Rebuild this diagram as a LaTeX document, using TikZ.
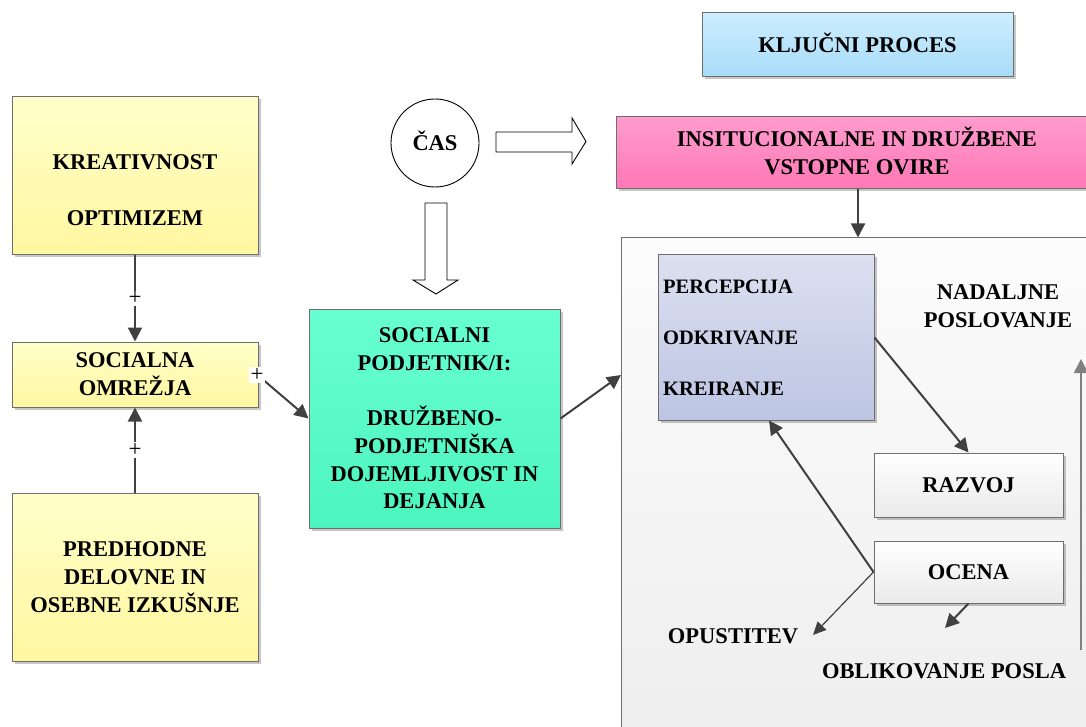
\documentclass[tikz,border=0pt]{standalone}
\usepackage{fontspec}
\setmainfont{Liberation Serif}
\usetikzlibrary{arrows.meta,shadows,calc}

\definecolor{boxline}{HTML}{6E6E6E}
\definecolor{linkgray}{HTML}{404040}
\definecolor{yelTop}{HTML}{FFFFCA}
\definecolor{yelBot}{HTML}{FFF7A0}
\definecolor{grnTop}{HTML}{68FFD0}
\definecolor{grnBot}{HTML}{4CF5BE}
\definecolor{bluTop}{HTML}{CDEEFF}
\definecolor{bluBot}{HTML}{A7DBF8}
\definecolor{pnkTop}{HTML}{FF9CCE}
\definecolor{pnkBot}{HTML}{FF77B5}
\definecolor{lavTop}{HTML}{DCE0F0}
\definecolor{lavBot}{HTML}{BCC5E3}
\definecolor{panTop}{HTML}{FCFCFC}
\definecolor{panBot}{HTML}{EEEEEE}
\definecolor{whtBot}{HTML}{EAEAEA}

\begin{document}
\begin{tikzpicture}[x=1pt,y=-1pt,
  every node/.style={font=\bfseries\fontsize{22.5}{27.7}\selectfont, inner sep=0pt},
  box/.style={draw=boxline, line width=1pt, rectangle, align=center,
    drop shadow={shadow xshift=2.5pt, shadow yshift=-2.5pt, opacity=0.22, fill=black}},
  yel/.style={box, top color=yelTop, bottom color=yelBot},
  grn/.style={box, top color=grnTop, bottom color=grnBot},
  blu/.style={box, top color=bluTop, bottom color=bluBot},
  pnk/.style={box, top color=pnkTop, bottom color=pnkBot},
  lav/.style={box, top color=lavTop, bottom color=lavBot},
  wht/.style={box, top color=white, bottom color=whtBot},
  oneline/.style={text height=15pt, text depth=0pt},
  link/.style={draw=linkgray, line width=2pt, -{Triangle[length=14pt,width=14pt]}},
  thinlink/.style={draw=linkgray, line width=1.2pt, -{Triangle[length=13pt,width=12pt]}},
  plus/.style={fill=white, font=\fontsize{23}{23}\selectfont, inner sep=1.5pt},
  blockarrow/.style={draw=black, line width=0.9pt, fill=white, line join=miter}
]
\path[use as bounding box, clip] (0,0) rectangle (1086,727);

% left column
\node[yel, minimum width=246pt, minimum height=158pt] (kreat) at (135,176) {};
\node[align=center] (kreattxt) at (135,190) {KREATIVNOST\\[28pt]OPTIMIZEM};
\node[yel, minimum width=246pt, minimum height=65pt] (omrez) at (135,374.5) {SOCIALNA\\OMREŽJA};
\node[yel, minimum width=246pt, minimum height=168pt] (predh) at (135,577) {PREDHODNE\\DELOVNE IN\\OSEBNE IZKUŠNJE};

% central actor
\node[grn, minimum width=251pt, minimum height=219pt] (soc) at (434.5,418.5)
  {SOCIALNI\\PODJETNIK/I:\\[27.7pt]DRUŽBENO-\\PODJETNIŠKA\\DOJEMLJIVOST IN\\DEJANJA};

% time
\node[circle, draw=black, line width=0.9pt, fill=white, minimum size=88pt, oneline] (cas) at (435,143) {ČAS};
\draw[blockarrow] (496,132) -- (572,132) -- (572,118) -- (586,141.5) -- (572,164) -- (572,152) -- (496,152) -- cycle;
\draw[blockarrow] (425,203) -- (447,203) -- (447,280) -- (458,280) -- (436,294) -- (413,280) -- (425,280) -- cycle;

% key process legend and barriers
\node[blu, minimum width=311pt, minimum height=64pt, oneline] (key) at (857.5,45) {KLJUČNI PROCES};
\node[pnk, minimum width=484pt, minimum height=72pt] (pink) at (858,153) {};
\node[align=center] (pinktxt) at (857,151) {INSITUCIONALNE IN DRUŽBENE\\VSTOPNE OVIRE};

% process panel
\node[draw=boxline, line width=1pt, top color=panTop, bottom color=panBot,
  minimum width=480pt, minimum height=502pt] (panel) at (861,489) {};
\node[lav, minimum width=216pt, minimum height=165pt] (perc) at (766,337.5) {};
\begin{scope}[every node/.append style={font=\bfseries\fontsize{20.5}{20.5}\selectfont, anchor=base west}]
  \node (p1) at (663,293) {PERCEPCIJA};
  \node (p2) at (663,344) {ODKRIVANJE};
  \node (p3) at (663,395) {KREIRANJE};
\end{scope}
\node[align=center] (nadalj) at (998,306) {NADALJNE\\POSLOVANJE};
\node[wht, minimum width=189pt, minimum height=64pt, oneline] (razvoj) at (968.5,485) {RAZVOJ};
\node[wht, minimum width=189pt, minimum height=62pt, oneline] (ocena) at (968.5,572) {OCENA};
\node[anchor=base] (opust) at (733,643) {OPUSTITEV};
\node[anchor=base] (oblik) at (944,678) {OBLIKOVANJE POSLA};

\coordinate (panIn) at (621,375);
\coordinate (opTip) at (813,635);
\coordinate (obTip) at (945,628);
\coordinate (upFoot) at (1081,650);
\coordinate (upTip) at (1081,359);

% connectors
\draw[link] (kreat.south) -- node[plus] {+} (omrez.north);
\draw[link] (predh.north) -- node[plus] {+} (omrez.south);
\draw[link] ($(omrez.east)+(2,3)$) -- (soc.west);
\node[plus] (plusside) at (257,375) {+};
\draw[link] (soc.east) -- (panIn);
\draw[link] (pink.south) -- (pink.south |- panel.north);
\draw[link] (perc.east) -- (razvoj.north);
\draw[link] (ocena.west) -- ($(perc.south)+(3,0)$);
\draw[thinlink] (ocena.west) -- (opTip);
\draw[link] (ocena.south) -- (obTip);
\draw[link, line width=1.8pt, draw=gray] (upFoot) -- (upTip);
\end{tikzpicture}
\end{document}
